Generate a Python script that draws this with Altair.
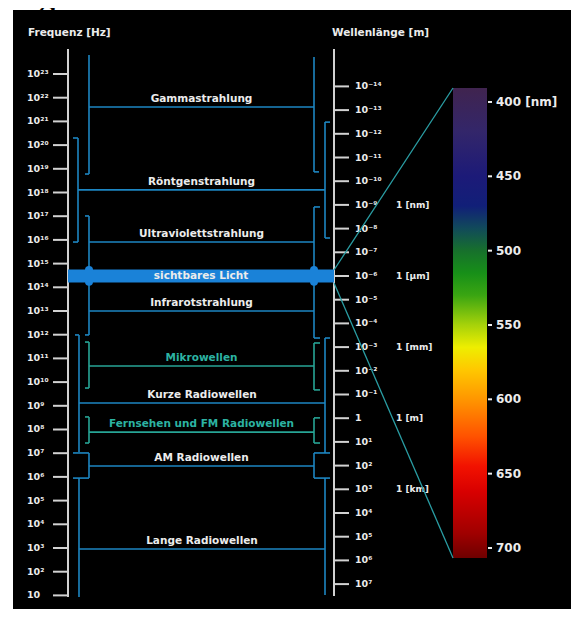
import math
import altair as alt
import pandas as pd

# ---------------- data ----------------
# frequency axis: exponents of 10 (Hz)
freq_exp = list(range(23, 0, -1))
# wavelength axis: exponents of 10 (m)
wl_exp = list(range(-14, 8))
LOG_C = math.log10(2.998e8)  # lambda = c / f

# wavelength unit markers
unit_labels = ["1 [nm]", "1 [µm]", "1 [mm]", "1 [m]", "1 [km]"]
unit_exp = [-9, -6, -3, 0, 3]

# spectral bands: label, level of the line (log10 f), left / right end of the line
band_labels = ["Gammastrahlung", "Röntgenstrahlung", "Ultraviolettstrahlung",
               "sichtbares Licht", "Infrarotstrahlung", "Mikrowellen",
               "Kurze Radiowellen", "Fernsehen und FM Radiowellen",
               "AM Radiowellen", "Lange Radiowellen"]
band_level = [21.61, 18.11, 15.91, 14.48, 13.0, 10.68, 9.12, 7.89, 6.46, 2.96]
band_x0 = [89, 78, 89, 68, 89, 89, 79, 89, 89, 79]
band_x1 = [314, 325, 314, 334, 314, 314, 325, 314, 314, 325]
band_kind = ["b", "b", "b", "v", "b", "t", "b", "t", "b", "b"]

# brackets: x, upper end, lower end (log10 f), foot end x, top foot, bottom foot, kind
br_x = [89, 78, 89, 89, 79, 89, 89, 79,
        314, 325, 314, 314, 325, 314, 314, 325]
br_top = [23.80, 20.30, 17.01, 11.69, 11.99, 8.53, 7.01, 5.95,
          23.72, 20.97, 17.39, 11.65, 11.86, 8.49, 7.01, 5.95]
br_bot = [18.78, 15.91, 11.99, 9.75, 7.05, 7.43, 5.95, 0.93,
          18.87, 16.08, 11.86, 9.67, 7.01, 7.43, 5.95, 1.02]
br_foot = [85, 73, 85, 85, 75, 85, 73, 79,
           319, 330, 320, 320, 330, 320, 330, 325]
br_topfoot = [0, 1, 1, 1, 1, 1, 1, 0, 0, 1, 1, 1, 1, 1, 1, 0]
br_botfoot = [1, 1, 1, 1, 0, 1, 1, 0, 1, 1, 1, 1, 0, 1, 1, 0]
br_kind = ["b", "b", "b", "t", "b", "t", "b", "b",
           "b", "b", "b", "t", "b", "t", "b", "b"]

# visible spectrum colour bar
spec_ticks = [400, 450, 500, 550, 600, 650, 700]
spec_tick_labels = ["400 [nm]", "450", "500", "550", "600", "650", "700"]
spec_range = [390.6, 706.7]
spec_stop_nm = [390, 420, 450, 470, 485, 500, 515, 530, 550, 565, 580, 600,
                625, 645, 662, 690, 707]
spec_stop_col = ["#40244f", "#33266a", "#1c1a78", "#111f78", "#114a5a", "#17702c",
                 "#178f18", "#3aa512", "#a6d20a", "#eeee00", "#ffc800", "#ff9600",
                 "#ff5200", "#f21200", "#d80000", "#a00000", "#6e0000"]

# ---------------- styling / layout ----------------
BLUE = "#1d86c2"
TEAL = "#27a596"
VIS = "#1a82d8"
AXIS = "#d2d2d2"
TXT = "#ececec"
FONT = "DejaVu Sans"
KIND_COL = {"b": BLUE, "t": TEAL, "v": VIS}
LABEL_COL = {"b": TXT, "t": "#2cb3a2", "v": TXT}

E400, E700 = 21.82, 3.0  # where 400 nm and 700 nm sit on the frequency scale


def nm_to_e(nm):
    return E400 + (nm - 400) * (E700 - E400) / 300.0


def sup(k):
    return str(k).translate(str.maketrans("-0123456789", "⁻⁰¹²³⁴⁵⁶⁷⁸⁹"))


XS = alt.Scale(domain=[8, 571], nice=False, zero=False)
YS = alt.Scale(domain=[0.426, 25.785], nice=False, zero=False)


def X(f="x"):
    return alt.X(f"{f}:Q", scale=XS, axis=None)


def Y(f="y"):
    return alt.Y(f"{f}:Q", scale=YS, axis=None)


def rules(df, width=2.0, cap="butt"):
    return alt.Chart(df).mark_rule(strokeWidth=width, strokeCap=cap).encode(
        x=X("x"), x2="x2:Q", y=Y("y"), y2="y2:Q",
        color=alt.Color("c:N", scale=None))


def texts(df, size, align="left", baseline="middle", dy=0, weight="bold", font=FONT):
    return alt.Chart(df).mark_text(align=align, baseline=baseline, dy=dy,
                                   fontSize=size, fontWeight=weight, font=font).encode(
        x=X("x"), y=Y("y"), text="t:N", color=alt.Color("c:N", scale=None))


layers = []

# black panel
layers.append(alt.Chart(pd.DataFrame({"x": [13], "x2": [571], "y": [25.70], "y2": [0.426]}))
              .mark_rect(color="black").encode(x=X("x"), x2="x2:Q", y=Y("y"), y2="y2:Q"))

# partial page heading above the panel
layers.append(texts(pd.DataFrame({"x": [55], "y": [25.83], "t": ["Strahlung"], "c": ["black"]}),
                    32, align="right", baseline="alphabetic", font="Liberation Serif"))

# axis lines
layers.append(rules(pd.DataFrame({"x": [68, 334], "x2": [68, 334], "y": [24.05, 24.05],
                                  "y2": [0.93, 0.97], "c": [AXIS, AXIS]}), 2))

# frequency ticks + labels
layers.append(rules(pd.DataFrame({"x": 53, "x2": 68, "y": freq_exp, "y2": freq_exp, "c": AXIS}), 2))
layers.append(texts(pd.DataFrame({"x": 27, "y": freq_exp,
                                  "t": ["10" if k == 1 else "10" + sup(k) for k in freq_exp],
                                  "c": TXT}), 9.5))

# wavelength ticks + labels
wl_pos = [LOG_C - k for k in wl_exp]
layers.append(rules(pd.DataFrame({"x": 334, "x2": 349, "y": wl_pos, "y2": wl_pos, "c": AXIS}), 2))
layers.append(texts(pd.DataFrame({"x": 355, "y": wl_pos,
                                  "t": ["1" if k == 0 else "10" + sup(k) for k in wl_exp],
                                  "c": TXT}), 9.5))

# unit markers
layers.append(texts(pd.DataFrame({"x": 396, "y": [LOG_C - k for k in unit_exp],
                                  "t": unit_labels, "c": TXT}), 9))

# axis titles
layers.append(texts(pd.DataFrame({"x": [28, 332], "y": [24.73, 24.73],
                                  "t": ["Frequenz [Hz]", "Wellenlänge [m]"], "c": TXT}), 10.5))

# brackets
seg = []
for x, t, b, fx, tf, bf, k in zip(br_x, br_top, br_bot, br_foot, br_topfoot, br_botfoot, br_kind):
    c = KIND_COL[k]
    seg.append({"x": x, "x2": x, "y": t, "y2": b, "c": c})
    if tf:
        seg.append({"x": fx, "x2": x, "y": t, "y2": t, "c": c})
    if bf:
        seg.append({"x": fx, "x2": x, "y": b, "y2": b, "c": c})
layers.append(rules(pd.DataFrame(seg), 1.6))

# band lines
lines = pd.DataFrame({"x": band_x0, "x2": band_x1, "y": band_level, "y2": band_level,
                      "c": [KIND_COL[k] for k in band_kind], "k": band_kind})
layers.append(rules(lines[lines.k != "v"], 1.6))
layers.append(rules(lines[lines.k == "v"], 13))
vis_level = band_level[band_labels.index("sichtbares Licht")]
layers.append(rules(pd.DataFrame({"x": [89, 314], "x2": [89, 314],
                                  "y": [vis_level + 0.25] * 2, "y2": [vis_level - 0.25] * 2,
                                  "c": VIS}), 8, cap="round"))

# band labels
lab = pd.DataFrame({"x": [(a + b) / 2 for a, b in zip(band_x0, band_x1)],
                    "y": band_level, "t": band_labels,
                    "c": [LABEL_COL[k] for k in band_kind], "k": band_kind})
layers.append(texts(lab[lab.k != "v"], 10.5, align="center", baseline="bottom", dy=-3))
layers.append(texts(lab[lab.k == "v"], 10.5, align="center", baseline="middle"))

# colour bar of the visible spectrum
lo, hi = spec_range
grad = alt.LinearGradient(
    gradient="linear", x1=0, x2=0, y1=0, y2=1,
    stops=[alt.GradientStop(offset=max(0.0, min(1.0, (n - lo) / (hi - lo))), color=c)
           for n, c in zip(spec_stop_nm, spec_stop_col)])
layers.append(alt.Chart(pd.DataFrame({"x": [453], "x2": [487], "y": [nm_to_e(lo)],
                                      "y2": [nm_to_e(hi)]}))
              .mark_rect(color=grad).encode(x=X("x"), x2="x2:Q", y=Y("y"), y2="y2:Q"))
sp = [nm_to_e(n) for n in spec_ticks]
layers.append(rules(pd.DataFrame({"x": 488, "x2": 492, "y": sp, "y2": sp, "c": TXT}), 2))
layers.append(texts(pd.DataFrame({"x": 496, "y": sp, "t": spec_tick_labels, "c": TXT}), 12))

# connecting lines from the visible band to the colour bar
layers.append(rules(pd.DataFrame({"x": [334, 334], "x2": [453, 453],
                                  "y": [14.73, 14.18], "y2": [nm_to_e(lo), nm_to_e(hi)],
                                  "c": "#2a9ea4"}), 1.3))

chart = alt.layer(*layers).properties(
    width=563, height=601,
    autosize=alt.AutoSizeParams(type="none"),
    padding=0, background="white",
).configure_view(stroke=None)

chart.save("out.html", embed_options={"renderer": "svg", "actions": False})
